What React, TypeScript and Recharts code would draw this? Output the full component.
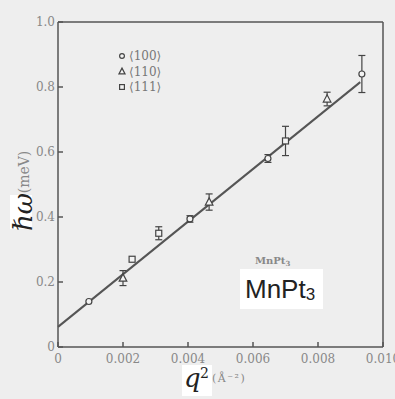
import React from 'react';
import { ScatterChart, Scatter, XAxis, YAxis, ErrorBar, ReferenceLine, Legend } from 'recharts';

const xTicks = [0, 0.002, 0.004, 0.006, 0.008, 0.01];
const yTicks = [0, 0.2, 0.4, 0.6, 0.8, 1.0];

const dir100 = [
  { x: 0.00095, y: 0.14, err: null },
  { x: 0.00406, y: 0.394, err: 0.01 },
  { x: 0.00646, y: 0.58, err: 0.012 },
  { x: 0.00935, y: 0.84, err: 0.057 },
];
const dir110 = [
  { x: 0.002, y: 0.212, err: 0.023 },
  { x: 0.00465, y: 0.446, err: 0.025 },
  { x: 0.00828, y: 0.763, err: 0.021 },
];
const dir111 = [
  { x: 0.00228, y: 0.27, err: null },
  { x: 0.0031, y: 0.35, err: 0.02 },
  { x: 0.007, y: 0.634, err: 0.045 },
];
const fitLine = [
  { x: 0, y: 0.062 },
  { x: 0.0093, y: 0.815 },
];
const legendItems = [
  { label: '⟨100⟩', shape: 'circle' },
  { label: '⟨110⟩', shape: 'triangle' },
  { label: '⟨111⟩', shape: 'square' },
];

const INK = '#444';
const MARK_FILL = '#f3f3f3';

const drawShape = (shape: string, cx: number, cy: number, s = 1) => {
  if (shape === 'circle') {
    return <circle cx={cx} cy={cy} r={3 * s} fill={MARK_FILL} stroke={INK} strokeWidth={1.2} />;
  }
  if (shape === 'triangle') {
    const pts = `${cx},${cy - 4.2 * s} ${cx - 3.8 * s},${cy + 3 * s} ${cx + 3.8 * s},${cy + 3 * s}`;
    return <polygon points={pts} fill={MARK_FILL} stroke={INK} strokeWidth={1.2} />;
  }
  return <rect x={cx - 3 * s} y={cy - 3 * s} width={6 * s} height={6 * s} fill={MARK_FILL} stroke={INK} strokeWidth={1.2} />;
};

const makeShape = (shape: string) => (props: any) => {
  const { cx, cy } = props;
  if (cx == null || cy == null) return <g />;
  return <g>{drawShape(shape, cx, cy)}</g>;
};

const tickFont = { fill: '#888', fontSize: 12, fontFamily: 'DejaVu Serif' };
const axisStroke = { stroke: '#555', strokeWidth: 1.5 };

const LegendContent = () => (
  <svg width={70} height={48}>
    {legendItems.map((it, i) => (
      <g key={it.label}>
        {drawShape(it.shape, 6, 8 + i * 15.5, 0.8)}
        <text x={13} y={12 + i * 15.5} fontFamily="DejaVu Serif" fontSize={12} fill="#777">
          {it.label}
        </text>
      </g>
    ))}
  </svg>
);

export default function App() {
  return (
    <div style={{ position: 'absolute', left: 0, top: 0, width: 395, height: 399, background: '#eeeeee', overflow: 'hidden' }}>
      <ScatterChart width={395} height={399} margin={{ top: 22, right: 12, left: 8, bottom: 32 }}>
        <XAxis
          xAxisId="x"
          type="number"
          dataKey="x"
          domain={[0, 0.01]}
          ticks={xTicks}
          interval={0}
          height={20}
          tickSize={-5}
          tickMargin={12}
          tickLine={axisStroke}
          axisLine={axisStroke}
          tick={tickFont}
          tickFormatter={(v: number) => (v === 0 ? '0' : v.toFixed(3))}
          allowDataOverflow
        />
        <XAxis
          xAxisId="top"
          type="number"
          dataKey="x"
          orientation="top"
          mirror
          domain={[0, 0.01]}
          ticks={xTicks}
          interval={0}
          tickSize={5}
          tickLine={axisStroke}
          axisLine={axisStroke}
          tick={false}
          allowDataOverflow
        />
        <YAxis
          yAxisId="y"
          type="number"
          dataKey="y"
          domain={[0, 1]}
          ticks={yTicks}
          interval={0}
          width={50}
          tickSize={-5}
          tickMargin={8}
          tickLine={axisStroke}
          axisLine={axisStroke}
          tick={tickFont}
          tickFormatter={(v: number) => (v === 0 ? '0' : v.toFixed(1))}
          allowDataOverflow
        />
        <YAxis
          yAxisId="right"
          type="number"
          dataKey="y"
          orientation="right"
          mirror
          domain={[0, 1]}
          ticks={yTicks}
          interval={0}
          tickSize={5}
          tickLine={axisStroke}
          axisLine={axisStroke}
          tick={false}
          allowDataOverflow
        />
        <ReferenceLine
          xAxisId="x"
          yAxisId="y"
          segment={fitLine}
          stroke="#555"
          strokeWidth={2}
          ifOverflow="visible"
        />
        <Scatter name="⟨100⟩" xAxisId="x" yAxisId="y" data={dir100} shape={makeShape('circle')} isAnimationActive={false}>
          <ErrorBar dataKey="err" direction="y" width={3.5} stroke={INK} strokeWidth={1.2} isAnimationActive={false} />
        </Scatter>
        <Scatter name="⟨110⟩" xAxisId="x" yAxisId="y" data={dir110} shape={makeShape('triangle')} isAnimationActive={false}>
          <ErrorBar dataKey="err" direction="y" width={3.5} stroke={INK} strokeWidth={1.2} isAnimationActive={false} />
        </Scatter>
        <Scatter name="⟨111⟩" xAxisId="x" yAxisId="y" data={dir111} shape={makeShape('square')} isAnimationActive={false}>
          <ErrorBar dataKey="err" direction="y" width={3.5} stroke={INK} strokeWidth={1.2} isAnimationActive={false} />
        </Scatter>
        <Legend
          layout="vertical"
          align="center"
          verticalAlign="middle"
          content={LegendContent}
          wrapperStyle={{ left: 116, top: 48, width: 70, height: 48 }}
        />
      </ScatterChart>
      <svg width={395} height={399} style={{ position: 'absolute', left: 0, top: 0, pointerEvents: 'none' }}>
        <rect x={10} y={195} width={22} height={34} fill="#ffffff" />
        <text transform="translate(32,212) rotate(-90)" textAnchor="middle" fontFamily="DejaVu Serif" fontStyle="italic" fontSize={26} fill="#222">
          ℏω
        </text>
        <text transform="translate(29,172) rotate(-90)" textAnchor="middle" fontFamily="DejaVu Serif" fontSize={14} fill="#888">
          (meV)
        </text>
        <rect x={182} y={365} width={30} height={31} fill="#ffffff" />
        <text x={184} y={387} fontFamily="DejaVu Serif" fontStyle="italic" fontSize={26} fill="#222">
          q
        </text>
        <text x={200} y={378} fontFamily="DejaVu Serif" fontSize={14} fill="#222">
          2
        </text>
        <text x={212} y={382} fontFamily="DejaVu Serif" fontSize={11} fill="#888" letterSpacing={1.5}>
          (Å⁻²)
        </text>
        <text x={255} y={264} fontFamily="DejaVu Serif" fontWeight="bold" fontSize={10} fill="#888">
          MnPt<tspan fontSize={7} dy={2}>3</tspan>
        </text>
        <rect x={240} y={269} width={83} height={40} fill="#ffffff" />
        <text x={245} y={298} fontFamily="Liberation Sans, Arial, sans-serif" fontSize={26} fill="#222">
          MnPt<tspan fontSize={17} dy={2}>3</tspan>
        </text>
      </svg>
    </div>
  );
}
